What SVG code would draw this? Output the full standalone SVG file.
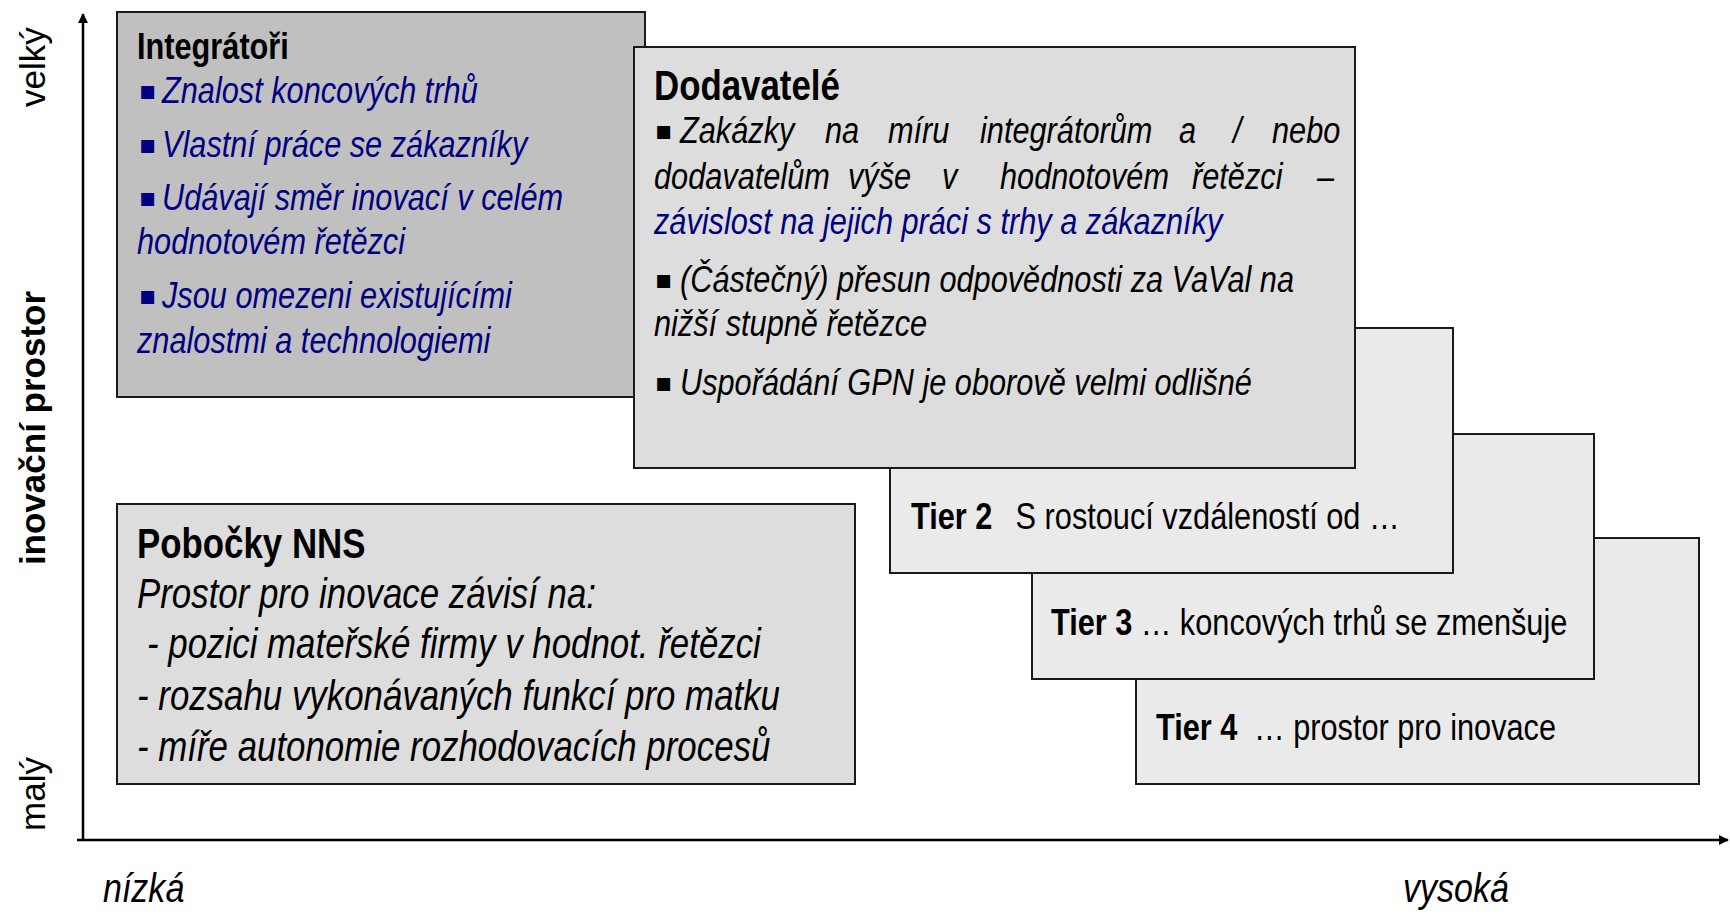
<svg xmlns="http://www.w3.org/2000/svg" width="1730" height="914" viewBox="0 0 1730 914">
<style>
.box{stroke:#1a1a1a;stroke-width:2}
.t{font-family:"Liberation Sans Narrow","Arial Narrow","Liberation Sans",sans-serif;fill:#000}
.b{font-weight:bold}
.i{font-style:italic}
.blue{fill:#000080}
.ax{font-family:"Liberation Sans",Arial,sans-serif;font-size:35px;fill:#000}
.bul{font-family:"DejaVu Sans",sans-serif;font-size:26px}
.axis{stroke:#000;stroke-width:2.5;fill:none}
</style>
<defs>
<marker id="ah" markerWidth="10" markerHeight="10" refX="9" refY="5" orient="auto" markerUnits="userSpaceOnUse">
<path d="M0,0 L10,5 L0,10 Z" fill="#000"/>
</marker>
</defs>
<rect width="1730" height="914" fill="#fff"/>

<g id="connectors">
<line class="axis" x1="83" y1="841" x2="83" y2="14" marker-end="url(#ah)"/>
<line class="axis" x1="77" y1="840" x2="1728" y2="840" marker-end="url(#ah)"/>
</g>

<g id="axis-labels">
<text class="ax" transform="translate(45,67) rotate(-90)" text-anchor="middle">velký</text>
<text class="ax" transform="translate(45,794) rotate(-90)" text-anchor="middle">malý</text>
<text class="ax b" transform="translate(45,428) rotate(-90)" text-anchor="middle">inovační prostor</text>
<text class="t i" font-size="41" transform="translate(103,902) scale(0.83,1)">nízká</text>
<text class="t i" font-size="41" transform="translate(1403,902) scale(0.83,1)">vysoká</text>
</g>

<g id="tier4">
<rect class="box" x="1136" y="538" width="563" height="246" fill="#eaeaea"/>
<text class="t" font-size="37" transform="translate(1156,740) scale(0.83,1)"><tspan class="b">Tier 4</tspan><tspan x="118">… prostor pro inovace</tspan></text>
</g>
<g id="tier3">
<rect class="box" x="1032" y="434" width="562" height="245" fill="#eaeaea"/>
<text class="t" font-size="37" transform="translate(1051,635) scale(0.83,1)"><tspan class="b">Tier 3</tspan><tspan x="108">… koncových trhů se zmenšuje</tspan></text>
</g>
<g id="tier2">
<rect class="box" x="890" y="328" width="563" height="245" fill="#eaeaea"/>
<text class="t" font-size="37" transform="translate(911,529) scale(0.83,1)"><tspan class="b">Tier 2</tspan><tspan x="126">S rostoucí vzdáleností od …</tspan></text>
</g>

<g id="integratori">
<rect class="box" x="117" y="12" width="528" height="385" fill="#c0c0c0"/>
<text class="t b" font-size="37" transform="translate(137,59) scale(0.83,1)">Integrátoři</text>
<g class="bul blue">
<text x="139" y="99">▪</text>
<text x="139" y="153">▪</text>
<text x="139" y="206">▪</text>
<text x="139" y="304">▪</text>
</g>
<g class="t i blue" font-size="37">
<text transform="translate(162,103) scale(0.83,1)">Znalost koncových trhů</text>
<text transform="translate(162,157) scale(0.83,1)">Vlastní práce se zákazníky</text>
<text transform="translate(162,210) scale(0.83,1)">Udávají směr inovací v celém</text>
<text transform="translate(137,254) scale(0.83,1)">hodnotovém řetězci</text>
<text transform="translate(162,308) scale(0.83,1)">Jsou omezeni existujícími</text>
<text transform="translate(137,353) scale(0.83,1)">znalostmi a technologiemi</text>
</g>
</g>

<g id="dodavatele">
<rect class="box" x="634" y="47" width="721" height="421" fill="#dddddd"/>
<text class="t b" font-size="42" transform="translate(654,100) scale(0.83,1)">Dodavatelé</text>
<g class="bul">
<text x="655" y="139">▪</text>
<text x="655" y="288">▪</text>
<text x="655" y="391">▪</text>
</g>
<g class="t i" font-size="37">
<text transform="translate(680,143) scale(0.83,1)">Zakázky</text>
<text transform="translate(825,143) scale(0.83,1)">na</text>
<text transform="translate(888,143) scale(0.83,1)">míru</text>
<text transform="translate(980,143) scale(0.83,1)">integrátorům</text>
<text transform="translate(1179,143) scale(0.83,1)">a</text>
<text transform="translate(1233,143) scale(0.83,1)">/</text>
<text transform="translate(1272,143) scale(0.83,1)">nebo</text>
<text transform="translate(654,189) scale(0.83,1)">dodavatelům</text>
<text transform="translate(848,189) scale(0.83,1)">výše</text>
<text transform="translate(942,189) scale(0.83,1)">v</text>
<text transform="translate(1000,189) scale(0.83,1)">hodnotovém</text>
<text transform="translate(1192,189) scale(0.83,1)">řetězci</text>
<text transform="translate(1317,189) scale(0.83,1)">–</text>
<text class="blue" transform="translate(654,234) scale(0.83,1)">závislost na jejich práci s trhy a zákazníky</text>
<text transform="translate(680,292) scale(0.83,1)">(Částečný) přesun odpovědnosti za VaVal na</text>
<text transform="translate(654,336) scale(0.83,1)">nižší stupně řetězce</text>
<text transform="translate(680,395) scale(0.83,1)">Uspořádání GPN je oborově velmi odlišné</text>
</g>
</g>

<g id="pobocky">
<rect class="box" x="117" y="504" width="738" height="280" fill="#dddddd"/>
<text class="t b" font-size="42" transform="translate(137,558) scale(0.83,1)">Pobočky NNS</text>
<g class="t i" font-size="42">
<text transform="translate(137,608) scale(0.83,1)">Prostor pro inovace závisí na:</text>
<text transform="translate(147,658) scale(0.83,1)">- pozici mateřské firmy v hodnot. řetězci</text>
<text transform="translate(137,710) scale(0.83,1)">- rozsahu vykonávaných funkcí pro matku</text>
<text transform="translate(137,761) scale(0.83,1)">- míře autonomie rozhodovacích procesů</text>
</g>
</g>
</svg>
